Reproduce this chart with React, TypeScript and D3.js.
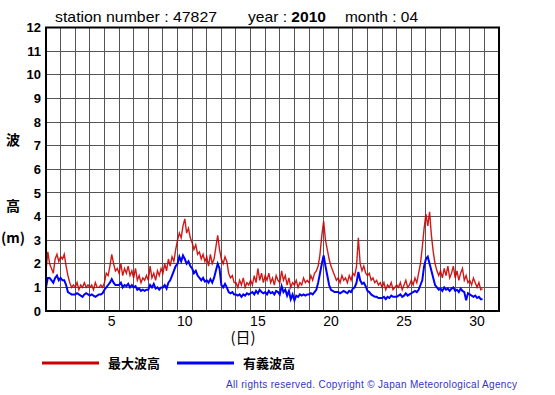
import React from 'react';
import * as d3 from 'd3';

// 3-hourly values, 8 per day, April 1 00:00 onward
const maxWave = [
  1.7, 2.5, 2.0, 1.8, 1.6, 2.2, 2.4, 2.1,
  2.3, 2.2, 2.4, 1.9, 1.5, 1.2, 1.0, 1.1,
  1.0, 1.2, 0.9, 1.1, 1.0, 1.2, 1.0, 1.1,
  1.0, 1.1, 0.9, 1.2, 1.0, 1.0, 1.1, 1.0,
  1.2, 1.6, 1.5, 1.9, 2.4, 2.0, 1.7, 1.8,
  1.6, 2.0, 1.5, 1.8, 1.6, 1.9, 1.5, 1.7,
  1.4, 1.8, 1.3, 1.5, 1.2, 1.4, 1.3, 1.5,
  1.3, 1.9, 1.4, 1.6, 1.3, 1.7, 1.5, 1.8,
  1.6, 2.0, 1.7, 2.2, 1.9, 2.3, 2.1, 2.6,
  3.0, 3.3, 3.1, 3.6, 3.9, 3.3, 3.5, 3.1,
  2.9, 2.6, 2.8, 2.4, 2.5, 2.2, 2.4, 2.1,
  2.3, 1.9, 2.4, 2.0, 2.2, 2.7, 3.2, 2.6,
  2.2, 2.0, 2.3, 2.1, 1.6, 1.4, 1.5, 1.2,
  1.2, 1.0, 1.3, 1.1, 1.4, 1.0, 1.2, 1.1,
  1.3, 1.1, 1.5, 1.2, 1.8, 1.3, 1.6, 1.2,
  1.5, 1.3, 1.6, 1.2, 1.4, 1.1, 1.5, 1.3,
  1.2, 1.7, 1.3, 1.5, 1.1, 1.4, 1.0, 1.2,
  1.1, 1.3, 1.0, 1.2, 1.1, 1.4, 1.2, 1.3,
  1.2, 1.5, 1.3, 1.6, 1.7, 1.9, 2.4, 3.2,
  3.8, 3.0, 2.6, 2.2, 1.9, 1.7, 1.5, 1.3,
  1.4, 1.2, 1.5, 1.3, 1.4, 1.2, 1.5, 1.3,
  1.6, 1.5, 1.9, 3.1, 2.0, 1.7, 1.9, 1.6,
  1.5, 1.6, 1.3, 1.4, 1.2, 1.3, 1.1, 1.2,
  1.0, 1.2, 0.9, 1.1, 1.0, 1.2, 0.9, 1.0,
  1.1, 1.0, 1.2, 0.9, 1.1, 1.3, 1.0, 1.1,
  1.3, 1.1, 1.4, 1.2, 1.6, 2.0, 2.7, 3.5,
  4.1, 3.6, 4.2, 3.2, 2.5, 2.0, 1.7, 1.5,
  1.7, 1.4, 1.8, 1.5, 1.9, 1.4, 1.6, 1.9,
  1.4, 1.7, 1.3, 1.6, 1.8, 1.3, 1.5, 1.2,
  1.3, 1.1, 1.4, 1.2, 1.0, 1.2, 0.9, 0.95,
];

const sigWave = [
  1.0, 1.4, 1.4, 1.3, 1.2, 1.4, 1.5, 1.3,
  1.4, 1.3, 1.3, 1.1, 0.8, 0.75, 0.7, 0.7,
  0.7, 0.75, 0.7, 0.65, 0.6, 0.7, 0.75, 0.7,
  0.65, 0.7, 0.65, 0.6, 0.65, 0.7, 0.7, 0.75,
  0.9, 1.0, 1.1, 1.2, 1.35, 1.2, 1.1, 1.1,
  1.1, 1.2, 1.0, 1.1, 1.05, 1.15, 1.0, 1.1,
  1.0, 1.05, 0.9, 0.95, 0.85, 0.9, 0.85, 0.9,
  0.9, 1.1, 1.0, 1.15, 0.95, 1.0, 0.9, 1.0,
  1.0, 1.1, 0.95, 1.2, 1.3, 1.5, 1.7, 1.9,
  2.0, 2.3, 2.1, 2.35, 2.2, 2.0, 2.1, 1.9,
  1.8, 1.6, 1.7, 1.5, 1.4, 1.3, 1.4, 1.25,
  1.3, 1.2, 1.35, 1.2, 1.4, 1.7, 2.0, 1.8,
  1.1, 1.0, 1.15, 1.0, 0.8, 0.75, 0.8, 0.7,
  0.7, 0.65, 0.7, 0.6, 0.7, 0.65, 0.75, 0.7,
  0.75, 0.8, 0.7, 0.85, 0.75, 0.9, 0.8, 0.75,
  0.8, 0.7, 0.85, 0.75, 0.8, 0.7, 0.85, 0.8,
  0.7, 1.05, 0.8, 0.9, 0.65, 0.85, 0.5, 0.7,
  0.45, 0.65, 0.6, 0.7, 0.65, 0.7, 0.65, 0.7,
  0.7, 0.75, 0.7, 0.8, 0.9, 1.2, 1.6, 2.0,
  2.35, 1.9, 1.5, 1.1, 0.9, 0.85, 0.8, 0.8,
  0.8, 0.75, 0.8, 0.85, 0.8, 0.75, 0.85, 0.8,
  0.95, 1.0, 1.2, 1.65, 1.3, 1.15, 1.2, 1.05,
  0.85, 0.8, 0.7, 0.65, 0.6, 0.6, 0.55, 0.55,
  0.55, 0.6, 0.5, 0.6, 0.55, 0.65, 0.6, 0.6,
  0.6, 0.65, 0.7, 0.6, 0.65, 0.75, 0.65, 0.7,
  0.75, 0.8, 0.85, 0.8, 0.9, 1.1, 1.3, 1.9,
  2.2, 2.3, 2.0, 1.7, 1.4, 1.1, 1.0, 0.9,
  0.95, 0.85, 1.0, 0.9, 0.95, 0.85, 0.95, 1.0,
  0.85, 0.9, 0.8, 0.95, 0.85, 0.8, 0.45, 0.75,
  0.7, 0.65, 0.6, 0.65, 0.55, 0.6, 0.5, 0.5,
];

const yTicks = d3.range(0, 13);
const dayLabels = [5, 10, 15, 20, 25, 30];
const legendItems = [
  { label: '最大波高', color: '#cc0000' },
  { label: '有義波高', color: '#0000ff' },
];

const left = 46, right = 499, top = 27.5, bottom = 311;
const sans = '"Liberation Sans", Arial, sans-serif';
const cjk = '"Noto Sans CJK JP", sans-serif';

export default function App() {
  const x = d3.scaleLinear().domain([0, 31]).range([left, right]);
  const y = d3.scaleLinear().domain([0, 12]).range([bottom, top]);
  const line = d3.line<number>()
    .x((_, i) => x(i / 8))
    .y(v => y(v));

  return (
    <svg width={555} height={395} style={{ position: 'absolute', left: 0, top: 0, background: '#fff' }}>
      <g fontFamily={sans} fontSize={15} fill="#000">
        <text x={55} y={22} textLength={162} lengthAdjust="spacingAndGlyphs">station number : 47827</text>
        <text x={248} y={22} textLength={78} lengthAdjust="spacingAndGlyphs">year : <tspan fontWeight="bold">2010</tspan></text>
        <text x={345} y={22} textLength={73} lengthAdjust="spacingAndGlyphs">month : 04</text>
      </g>

      {/* grid */}
      <g stroke="#555" strokeWidth={1} shapeRendering="crispEdges">
        {d3.range(1, 31).map(d => (
          <line key={'v' + d} x1={x(d)} x2={x(d)} y1={top} y2={bottom} />
        ))}
        {yTicks.slice(1, 12).map(v => (
          <line key={'h' + v} x1={left} x2={right} y1={y(v)} y2={y(v)} />
        ))}
      </g>

      <path d={line(maxWave) || ''} fill="none" stroke="#cc0000" strokeWidth={1.4} opacity={0.9} />
      <path d={line(sigWave) || ''} fill="none" stroke="#0000ff" strokeWidth={2} />

      <rect x={left} y={top} width={right - left} height={bottom - top} fill="none" stroke="#000" strokeWidth={2} />

      <g fontFamily={sans} fontSize={13} fontWeight="bold" textAnchor="end">
        {yTicks.map(v => (
          <text key={v} x={41} y={y(v) + 4.7}>{v}</text>
        ))}
      </g>
      <g fontFamily={sans} fontSize={14} textAnchor="middle">
        {dayLabels.map(d => (
          <text key={d} x={x(d - 0.5)} y={326}>{d}</text>
        ))}
      </g>

      <g fontFamily={cjk} fontWeight="bold" fontSize={14}>
        <text x={13} y={145} textAnchor="middle">波</text>
        <text x={13} y={211} textAnchor="middle">高</text>
        <text x={13} y={243} textAnchor="middle">(m)</text>
        <text x={243} y={343} textAnchor="middle" fontWeight="normal" fontSize={15}>(日)</text>
      </g>

      {legendItems.map((it, i) => (
        <g key={it.label} transform={`translate(${42 + i * 135},363)`}>
          <line x1={0} x2={57} y1={0} y2={0} stroke={it.color} strokeWidth={3} />
          <text x={66} y={4.5} fontFamily={cjk} fontWeight="bold" fontSize={13}>{it.label}</text>
        </g>
      ))}

      <text x={226} y={388} fontFamily={sans} fontSize={10} fill="#3333cc" textLength={291} lengthAdjust="spacing">
        All rights reserved. Copyright © Japan Meteorological Agency
      </text>
    </svg>
  );
}
